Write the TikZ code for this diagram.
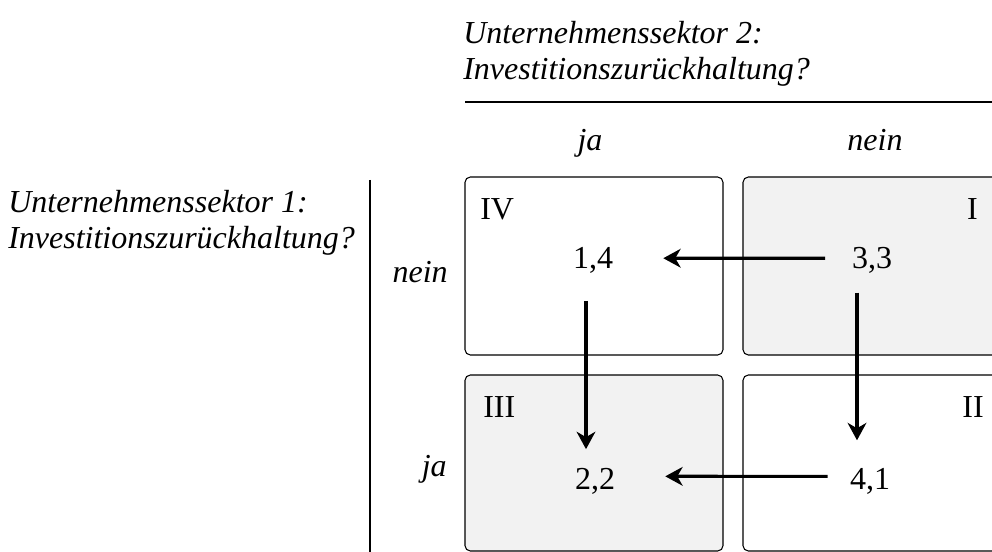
\documentclass[tikz,border=0pt]{standalone}
\usepackage{fontspec}
\setmainfont{Liberation Serif}
\usetikzlibrary{arrows.meta}
\definecolor{cellgray}{HTML}{F2F2F2}
\begin{document}
\begin{tikzpicture}[x=0.75pt,y=-0.75pt,
  cell/.style={draw=black, line width=0.8pt, rounded corners=4pt, minimum width=193.5pt, minimum height=133.5pt, inner sep=0pt},
  cellb/.style={cell, minimum height=132pt},
  shaded/.style={fill=cellgray},
  txt/.style={font=\fontsize{24}{27}\selectfont, inner sep=0pt},
  lab/.style={font=\fontsize{24}{27}\selectfont\itshape, inner sep=0pt},
  arr/.style={line width=2.4pt, -{Stealth[length=13pt,width=14pt,inset=4pt]}},
  rulel/.style={line width=2pt}
]
\useasboundingbox (0,0) rectangle (992,552);
\clip (0,0) rectangle (992,552);
% cells
\node[cell] (bIV) at (594,266) {};
\node[cell, shaded] (bI) at (872,266) {};
\node[cellb, shaded] (bIII) at (594,463) {};
\node[cellb] (bII) at (872,463) {};
% rules
\coordinate (rtA) at (465,102);
\coordinate (rtB) at (992,102);
\coordinate (rlA) at (370,180);
\coordinate (rlB) at (370,552);
\draw[rulel] (rtA) -- (rtB);
\draw[rulel] (rlA) -- (rlB);
% titles (base anchor = baseline of last line)
\node[lab, anchor=base west, align=left] (t2) at (463,80) {Unternehmenssektor 2:\\Investitionszurückhaltung?};
\node[lab, anchor=base west, align=left] (t1) at (8,249) {Unternehmenssektor 1:\\Investitionszurückhaltung?};
% headers
\node[lab, anchor=base] (hja) at (590,151) {ja};
\node[lab, anchor=base] (hnein) at (875,151) {nein};
\node[lab, anchor=base east] (rnein) at (448,282) {nein};
\node[lab, anchor=base east] (rja) at (447,476) {ja};
% roman numerals
\node[txt, anchor=base west] (rIV) at (480,220) {IV};
\node[txt, anchor=base east] (rI) at (978,220) {I};
\node[txt, anchor=base west] (rIII) at (483,417) {III};
\node[txt, anchor=base east] (rII) at (984,417) {II};
% payoffs
\node[txt, anchor=base] (n14) at (593,269) {1,4};
\node[txt, anchor=base] (n33) at (872,269) {3,3};
\node[txt, anchor=base] (n22) at (595,489) {2,2};
\node[txt, anchor=base] (n41) at (870,489) {4,1};
% arrows
\draw[arr, shorten <=20pt, shorten >=37.5pt] ([yshift=2pt]n33.west) -- ([yshift=2pt]n14.east);
\draw[arr, shorten <=16.5pt, shorten >=37.5pt] ([yshift=3.4pt]n41.west) -- ([yshift=3.4pt]n22.east);
\draw[arr, shorten <=20pt, shorten >=13.8pt] ([xshift=-5.25pt]n14.south) -- ([xshift=-6.75pt]n22.north);
\draw[arr, shorten <=13.9pt, shorten >=20.5pt] ([xshift=-11.25pt]n33.south) -- ([xshift=-9.75pt]n41.north);
\end{tikzpicture}
\end{document}
